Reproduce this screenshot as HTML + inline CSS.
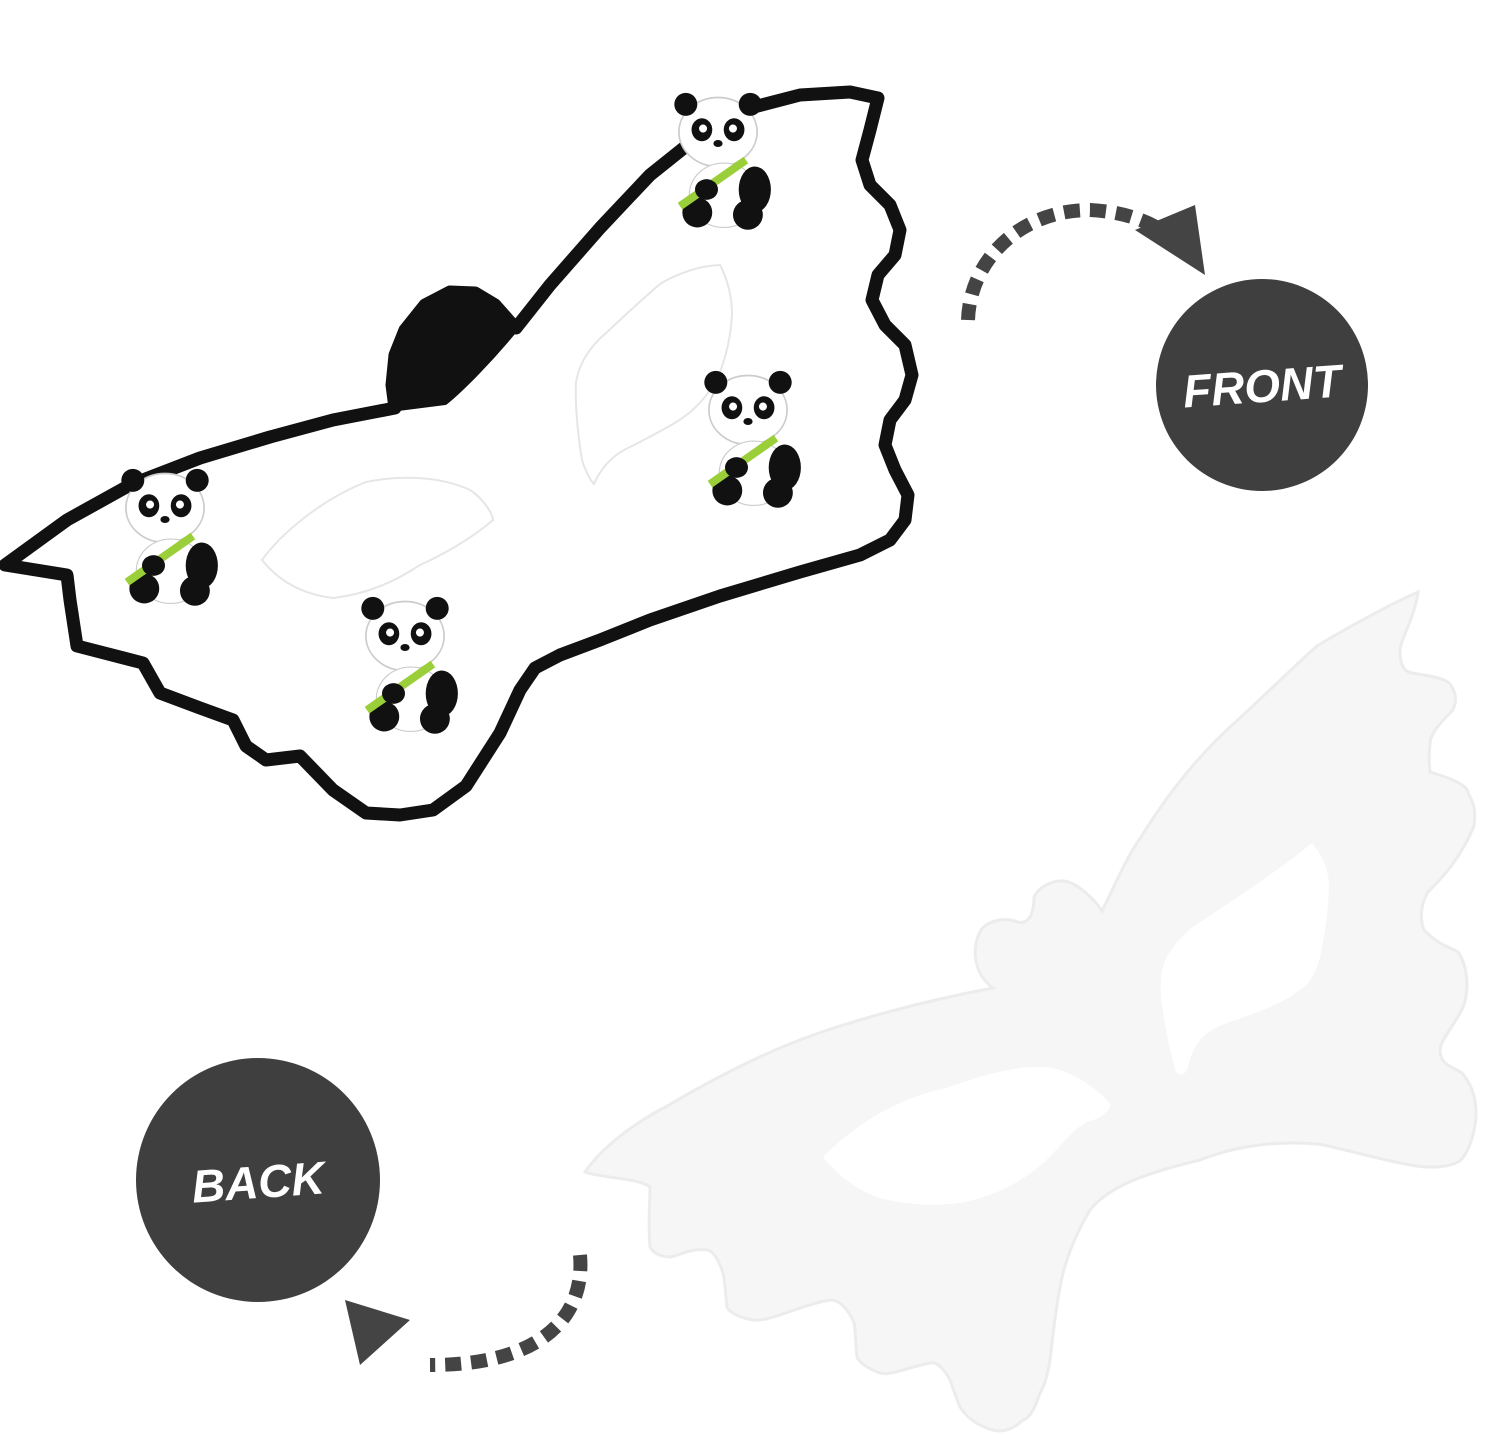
<!DOCTYPE html>
<html><head><meta charset="utf-8"><style>
html,body{margin:0;padding:0;background:#fff;overflow:hidden;}
svg{display:block}
</style></head><body>
<svg width="1500" height="1435" viewBox="0 0 1500 1435" xmlns="http://www.w3.org/2000/svg">
<defs>
<g id="panda">
 <ellipse cx="0" cy="0" rx="34" ry="30" fill="#fff" stroke="#ccc" stroke-width="1.5"/>
 <circle cx="-28" cy="-24" r="10" fill="#111"/><circle cx="28" cy="-24" r="10" fill="#111"/>
 <ellipse cx="-14" cy="-2" rx="9" ry="10" fill="#111"/><ellipse cx="14" cy="-2" rx="9" ry="10" fill="#111"/>
 <circle cx="-13" cy="-3" r="3.5" fill="#fff"/><circle cx="13" cy="-3" r="3.5" fill="#fff"/>
 <ellipse cx="0" cy="10" rx="4" ry="3" fill="#111"/>
 <ellipse cx="5" cy="55" rx="30" ry="28" fill="#fff" stroke="#ccc"/>
 <ellipse cx="32" cy="50" rx="14" ry="20" fill="#111"/>
 <ellipse cx="-18" cy="70" rx="13" ry="13" fill="#111"/><ellipse cx="26" cy="72" rx="13" ry="13" fill="#111"/>
 <rect x="-40" y="38" width="70" height="7" fill="#9bcf3a" transform="rotate(-35 0 42)"/>
 <ellipse cx="-10" cy="50" rx="10" ry="9" fill="#111"/>
</g>
</defs>
<!-- back mask -->
<path d="M585,1172 C600,1150 630,1125 669,1105 C720,1075 770,1050 816,1034 C880,1012 940,998 993,988 C975,975 970,950 981,930 C990,918 1010,918 1017,922 C1028,925 1034,915 1034,897 C1040,885 1055,880 1064,881 C1078,883 1095,900 1102,911 C1115,885 1125,860 1141,837 C1170,790 1200,755 1229,728 C1260,700 1290,670 1317,646 C1360,620 1400,600 1418,592 C1414,620 1400,640 1400,651 C1400,668 1406,672 1412,673 C1430,676 1445,678 1450,684 C1458,695 1456,705 1452,711 C1438,725 1430,735 1430,744 C1428,760 1430,770 1430,772 C1450,778 1468,785 1468,793 C1478,810 1474,820 1474,826 C1460,860 1440,880 1428,892 C1420,905 1420,920 1424,930 C1438,945 1452,948 1458,952 C1470,970 1468,995 1463,1007 C1455,1025 1440,1040 1440,1051 C1440,1065 1455,1068 1462,1073 C1476,1090 1476,1105 1476,1117 C1474,1140 1466,1155 1460,1161 C1448,1168 1430,1168 1416,1166 C1380,1160 1350,1150 1318,1144 C1270,1140 1230,1148 1200,1160 C1150,1172 1110,1185 1090,1210 C1075,1235 1065,1260 1060,1287 C1054,1320 1052,1345 1050,1360 C1047,1380 1042,1390 1040,1393 C1035,1408 1030,1418 1023,1420 C1010,1432 1000,1432 993,1430 C975,1425 965,1415 960,1407 C955,1395 952,1385 950,1380 C942,1365 935,1362 930,1363 C905,1368 890,1376 880,1373 C865,1368 858,1360 857,1357 C855,1340 856,1325 853,1320 C845,1305 838,1300 830,1300 C800,1305 770,1322 753,1320 C735,1317 728,1310 727,1307 C725,1290 725,1280 723,1273 C718,1258 712,1250 707,1250 C690,1248 678,1256 670,1257 C655,1256 652,1250 650,1247 C648,1225 650,1200 650,1187 C640,1178 600,1178 585,1172 Z" fill="#f6f6f6" stroke="#ececec" stroke-width="3"/>
<path d="M823,1157 C850,1130 890,1100 946,1088 C990,1072 1020,1066 1045,1067 C1075,1070 1100,1092 1111,1105 C1106,1116 1095,1120 1087,1122 C1072,1130 1062,1145 1052,1154 C1030,1178 1000,1195 960,1203 C930,1207 897,1203 880,1198 C855,1190 835,1172 823,1157 Z" fill="#fff"/>
<path d="M1176,1072 C1168,1045 1163,1015 1161,996 C1160,980 1162,970 1164,963 C1175,940 1190,928 1205,919 C1240,895 1280,870 1312,843 C1322,855 1329,870 1329,886 C1328,910 1326,928 1323,941 C1320,965 1312,980 1306,985 C1290,1000 1265,1010 1241,1018 C1220,1025 1205,1032 1200,1040 C1192,1050 1190,1060 1188,1067 C1185,1076 1180,1076 1176,1072 Z" fill="#fff"/>
<!-- front mask -->
<path d="M5,565 L67,520 L130,485 L200,458 L270,437 L333,420 L395,408 L392,385 L395,355 L405,330 L425,305 L450,292 L475,293 L495,305 L510,322 L516,328 L550,285 L600,228 L650,175 L700,135 L750,108 L800,95 L850,92 L878,98 L870,130 L862,160 L870,185 L890,205 L900,230 L895,255 L878,275 L872,300 L885,325 L905,345 L912,375 L905,400 L890,420 L885,445 L895,470 L908,495 L905,520 L890,540 L860,555 L800,572 L720,596 L650,620 L600,640 L560,655 L535,668 L520,690 L500,733 L466,786 L433,810 L400,815 L366,813 L333,790 L300,756 L266,760 L246,746 L233,720 L200,708 L160,693 L143,663 L77,646 L70,600 L67,575 Z" fill="#fff" stroke="#111" stroke-width="13" stroke-linejoin="round"/>
<path d="M398,408 L392,385 L395,355 L405,330 L425,305 L450,292 L475,293 L495,305 L510,322 L516,328 C490,360 460,390 445,402 Z" fill="#111" stroke="#111" stroke-width="6" stroke-linejoin="round"/>
<path d="M262,560 C280,535 320,500 366,482 C400,475 440,476 470,490 C485,500 493,515 493,520 C470,540 440,556 420,565 C390,585 360,595 333,598 C300,594 278,580 262,560 Z" fill="#fff" stroke="#e6e6e6" stroke-width="2"/>
<path d="M582,460 C577,430 575,400 576,382 C580,360 592,345 606,333 C625,315 645,297 660,284 C680,272 700,266 720,265 C728,280 732,298 732,314 C731,335 726,356 720,372 C710,395 695,410 678,421 C660,432 640,442 624,450 C610,458 600,470 594,484 C590,480 585,470 582,460 Z" fill="#fff" stroke="#e6e6e6" stroke-width="2"/>
<use href="#panda" transform="translate(718,132) scale(1.15)"/>
<use href="#panda" transform="translate(748,410) scale(1.15)"/>
<use href="#panda" transform="translate(165,508) scale(1.15)"/>
<use href="#panda" transform="translate(405,636) scale(1.15)"/>
<!-- front arrow -->
<path d="M968,320 C970,260 1020,210 1090,210 C1130,212 1160,225 1180,245" fill="none" stroke="#444" stroke-width="14" stroke-dasharray="16 10"/>
<path d="M1135,230 L1195,205 L1205,275 Z" fill="#444"/>
<!-- back arrow -->
<path d="M580,1255 C585,1310 550,1365 430,1365" fill="none" stroke="#444" stroke-width="14" stroke-dasharray="16 10"/>
<path d="M345,1300 L410,1320 L360,1365 Z" fill="#444"/>
<!-- circles -->
<circle cx="1262" cy="385" r="106" fill="#3f3f3f"/>
<text x="1262" y="402" text-anchor="middle" font-family="Liberation Sans, sans-serif" font-weight="bold" font-style="italic" font-size="46" fill="#fff" transform="rotate(-4 1262 385)">FRONT</text>
<circle cx="258" cy="1180" r="122" fill="#3f3f3f"/>
<text x="258" y="1198" text-anchor="middle" font-family="Liberation Sans, sans-serif" font-weight="bold" font-style="italic" font-size="46" fill="#fff" transform="rotate(-4 258 1180)">BACK</text>
</svg>
</body></html>
